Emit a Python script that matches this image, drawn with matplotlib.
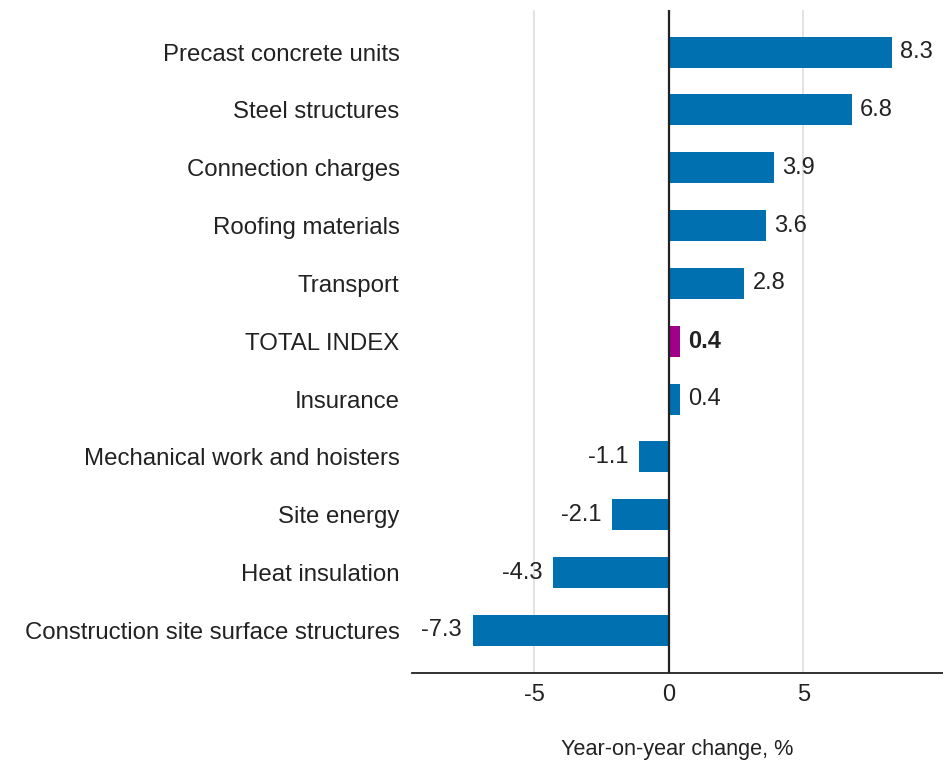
import matplotlib.pyplot as plt

plt.rcParams['font.family'] = ['Liberation Sans', 'DejaVu Sans']

categories = ['Precast concrete units', 'Steel structures', 'Connection charges',
              'Roofing materials', 'Transport', 'TOTAL INDEX', 'Insurance',
              'Mechanical work and hoisters', 'Site energy', 'Heat insulation',
              'Construction site surface structures']
values = [8.3, 6.8, 3.9, 3.6, 2.8, 0.4, 0.4, -1.1, -2.1, -4.3, -7.3]
highlight = 'TOTAL INDEX'

blue = '#0070b0'
magenta = '#a00088'
txt = '#222222'
fs = 17.3

fig = plt.figure(figsize=(9.43, 7.6), dpi=100)
ax = fig.add_axes([0.437, 0.115, 0.563, 0.872])

ypos = list(range(len(categories)))
colors = [magenta if c == highlight else blue for c in categories]
ax.barh(ypos, values, height=0.535, color=colors, zorder=2)

for y, v, c in zip(ypos, values, categories):
    w = 'bold' if c == highlight else 'normal'
    if v >= 0:
        ax.annotate(f'{v:.1f}', (v, y), xytext=(6, 0), textcoords='offset points',
                    ha='left', va='center', fontsize=17, color=txt, fontweight=w)
    else:
        ax.annotate(f'{v:.1f}', (v, y), xytext=(-8, 0), textcoords='offset points',
                    ha='right', va='center', fontsize=17, color=txt, fontweight=w)

ax.set_xlim(-9.55, 10.2)
ax.set_ylim(10.73, -0.73)
ax.set_xticks([-5, 0, 5])
ax.set_xticklabels(['-5', '0', '5'])
ax.set_yticks(ypos)
ax.set_yticklabels(categories)
ax.tick_params(axis='y', length=0, pad=9, labelsize=fs, labelcolor=txt)
ax.tick_params(axis='x', length=0, pad=8, labelsize=17, labelcolor=txt)

for x in [-5, 5]:
    ax.axvline(x, color='#e0e0e0', lw=1.3, zorder=0)
ax.axvline(0, color='#222222', lw=1.6, zorder=3)

for s in ['top', 'right', 'left']:
    ax.spines[s].set_visible(False)
ax.spines['bottom'].set_color('#222222')
ax.spines['bottom'].set_linewidth(1.3)

ax.set_xlabel('Year-on-year change, %', fontsize=15.6, color=txt, labelpad=24)

fig.savefig('out.png', dpi=100)
